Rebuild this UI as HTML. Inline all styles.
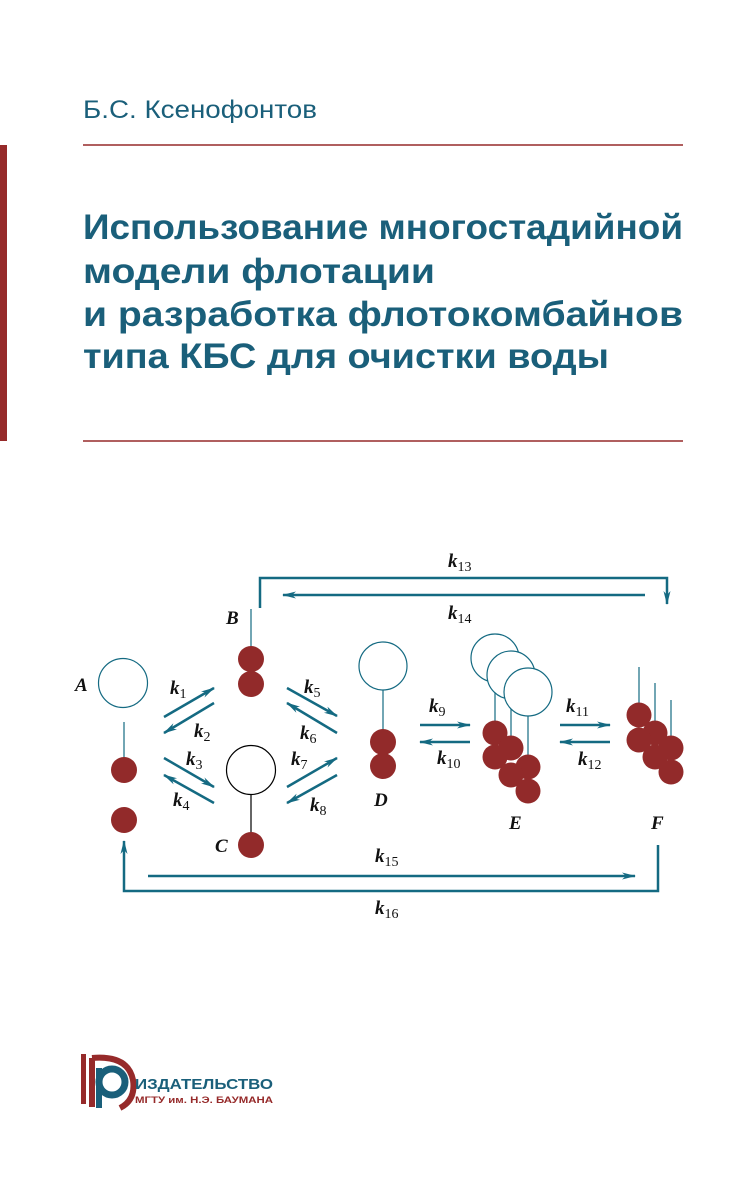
<!DOCTYPE html>
<html><head><meta charset="utf-8"><style>html,body{margin:0;padding:0;background:#fff}svg{display:block}</style></head>
<body>
<svg width="749" height="1182" viewBox="0 0 749 1182" xmlns="http://www.w3.org/2000/svg">
<defs>
<marker id="ah" viewBox="0 0 14 10" refX="13" refY="5" markerWidth="14" markerHeight="10" orient="auto" markerUnits="userSpaceOnUse">
<path d="M0,1.5 L14,5 L0,8.5 L4,5 Z" fill="#146a82"/></marker>
</defs>
<rect width="749" height="1182" fill="#fff"/>
<rect x="0" y="145" width="7" height="296" fill="#962a2a"/>
<line x1="83" y1="145" x2="683" y2="145" stroke="#962a2a" stroke-width="1.5"/>
<line x1="83" y1="441" x2="683" y2="441" stroke="#962a2a" stroke-width="1.5"/>
<g font-family="Liberation Sans, sans-serif" fill="#1a5f7a">
<text x="83" y="118" font-size="25" textLength="234" lengthAdjust="spacingAndGlyphs">Б.С. Ксенофонтов</text>
<g font-weight="bold" font-size="35">
<text x="83" y="239" textLength="600" lengthAdjust="spacingAndGlyphs">Использование многостадийной</text>
<text x="83" y="283" textLength="352" lengthAdjust="spacingAndGlyphs">модели флотации</text>
<text x="83" y="326" textLength="600" lengthAdjust="spacingAndGlyphs">и разработка флотокомбайнов</text>
<text x="83" y="368" textLength="526" lengthAdjust="spacingAndGlyphs">типа КБС для очистки воды</text>
</g></g>

<g stroke="#146a82" stroke-width="2.5" fill="none">
<polyline points="260,608 260,578 667,578 667,604" marker-end="url(#ah)"/>
<line x1="645" y1="595" x2="283" y2="595" marker-end="url(#ah)"/>
<line x1="148" y1="876" x2="635" y2="876" marker-end="url(#ah)"/>
<polyline points="658,845 658,891 124,891 124,841" marker-end="url(#ah)"/>
<line x1="164" y1="717" x2="214" y2="688" marker-end="url(#ah)"/>
<line x1="214" y1="703" x2="164" y2="733" marker-end="url(#ah)"/>
<line x1="164" y1="758" x2="214" y2="787" marker-end="url(#ah)"/>
<line x1="214" y1="803" x2="164" y2="775" marker-end="url(#ah)"/>
<line x1="287" y1="688" x2="337" y2="716" marker-end="url(#ah)"/>
<line x1="337" y1="733" x2="287" y2="703" marker-end="url(#ah)"/>
<line x1="287" y1="787" x2="337" y2="758" marker-end="url(#ah)"/>
<line x1="337" y1="775" x2="287" y2="803" marker-end="url(#ah)"/>
<line x1="420" y1="725" x2="470" y2="725" marker-end="url(#ah)"/>
<line x1="470" y1="742" x2="420" y2="742" marker-end="url(#ah)"/>
<line x1="560" y1="725" x2="610" y2="725" marker-end="url(#ah)"/>
<line x1="610" y1="742" x2="560" y2="742" marker-end="url(#ah)"/>
</g>

<g stroke="#146a82" stroke-width="1.2" fill="#fff">
<circle cx="123" cy="683" r="24.5"/>
<line x1="124" y1="722" x2="124" y2="758"/>
<line x1="251" y1="609" x2="251" y2="650"/>
<circle cx="383" cy="666" r="24"/>
<line x1="383" y1="690" x2="383" y2="735"/>
<line x1="495" y1="680" x2="495" y2="725"/>
<line x1="511" y1="700" x2="511" y2="740"/>
<line x1="528" y1="715" x2="528" y2="760"/>
<circle cx="495" cy="658" r="24"/>
<circle cx="511" cy="675" r="24"/>
<circle cx="528" cy="692" r="24"/>
<line x1="639" y1="667" x2="639" y2="712"/>
<line x1="655" y1="683" x2="655" y2="730"/>
<line x1="671" y1="700" x2="671" y2="745"/>
</g>
<g stroke="#000" stroke-width="1.2" fill="#fff">
<circle cx="251" cy="770" r="24.5"/>
<line x1="251" y1="795" x2="251" y2="835"/>
</g>
<g fill="#922a2a">
<circle cx="124" cy="770" r="13"/><circle cx="124" cy="820" r="13"/>
<circle cx="251" cy="659" r="13"/><circle cx="251" cy="684" r="13"/>
<circle cx="251" cy="845" r="13"/>
<circle cx="383" cy="742" r="13"/><circle cx="383" cy="766" r="13"/>
<circle cx="495" cy="733" r="12.5"/><circle cx="511" cy="748" r="12.5"/><circle cx="495" cy="757" r="12.5"/><circle cx="528" cy="767" r="12.5"/><circle cx="511" cy="775" r="12.5"/><circle cx="528" cy="791" r="12.5"/>
<circle cx="639" cy="715" r="12.5"/><circle cx="655" cy="733" r="12.5"/><circle cx="639" cy="740" r="12.5"/><circle cx="671" cy="748" r="12.5"/><circle cx="655" cy="757" r="12.5"/><circle cx="671" cy="772" r="12.5"/>
</g>

<g font-family="Liberation Serif, serif" font-style="italic" font-weight="bold" font-size="19" fill="#111">
<text x="75" y="691">A</text><text x="226" y="624">B</text><text x="215" y="852">C</text>
<text x="374" y="806">D</text><text x="509" y="829">E</text><text x="651" y="829">F</text>
<g font-size="19">
<text x="170" y="694">k<tspan font-style="normal" font-weight="normal" font-size="14" dy="4">1</tspan></text>
<text x="194" y="737">k<tspan font-style="normal" font-weight="normal" font-size="14" dy="4">2</tspan></text>
<text x="186" y="765">k<tspan font-style="normal" font-weight="normal" font-size="14" dy="4">3</tspan></text>
<text x="173" y="806">k<tspan font-style="normal" font-weight="normal" font-size="14" dy="4">4</tspan></text>
<text x="304" y="693">k<tspan font-style="normal" font-weight="normal" font-size="14" dy="4">5</tspan></text>
<text x="300" y="739">k<tspan font-style="normal" font-weight="normal" font-size="14" dy="4">6</tspan></text>
<text x="291" y="765">k<tspan font-style="normal" font-weight="normal" font-size="14" dy="4">7</tspan></text>
<text x="310" y="811">k<tspan font-style="normal" font-weight="normal" font-size="14" dy="4">8</tspan></text>
<text x="429" y="712">k<tspan font-style="normal" font-weight="normal" font-size="14" dy="4">9</tspan></text>
<text x="437" y="764">k<tspan font-style="normal" font-weight="normal" font-size="14" dy="4">10</tspan></text>
<text x="566" y="712">k<tspan font-style="normal" font-weight="normal" font-size="14" dy="4">11</tspan></text>
<text x="578" y="765">k<tspan font-style="normal" font-weight="normal" font-size="14" dy="4">12</tspan></text>
<text x="448" y="567">k<tspan font-style="normal" font-weight="normal" font-size="14" dy="4">13</tspan></text>
<text x="448" y="619">k<tspan font-style="normal" font-weight="normal" font-size="14" dy="4">14</tspan></text>
<text x="375" y="862">k<tspan font-style="normal" font-weight="normal" font-size="14" dy="4">15</tspan></text>
<text x="375" y="914">k<tspan font-style="normal" font-weight="normal" font-size="14" dy="4">16</tspan></text>
</g></g>

<rect x="81" y="1054" width="5" height="50" fill="#962a2a"/>
<path d="M92,1058 L92,1107 M92,1058 Q128,1055 133,1080 Q136,1100 120,1108" stroke="#962a2a" stroke-width="6" fill="none"/>
<circle cx="112" cy="1082" r="13" fill="none" stroke="#1a5f7a" stroke-width="7"/>
<rect x="96" y="1068" width="6" height="40" fill="#1a5f7a"/>
<text x="135" y="1089" font-family="Liberation Sans, sans-serif" font-weight="bold" font-size="15" fill="#1a5f7a" textLength="138" lengthAdjust="spacingAndGlyphs">ИЗДАТЕЛЬСТВО</text>
<text x="135" y="1103" font-family="Liberation Sans, sans-serif" font-weight="bold" font-size="9" fill="#962a2a" textLength="138" lengthAdjust="spacingAndGlyphs">МГТУ им. Н.Э. БАУМАНА</text>
</svg>
</body></html>
